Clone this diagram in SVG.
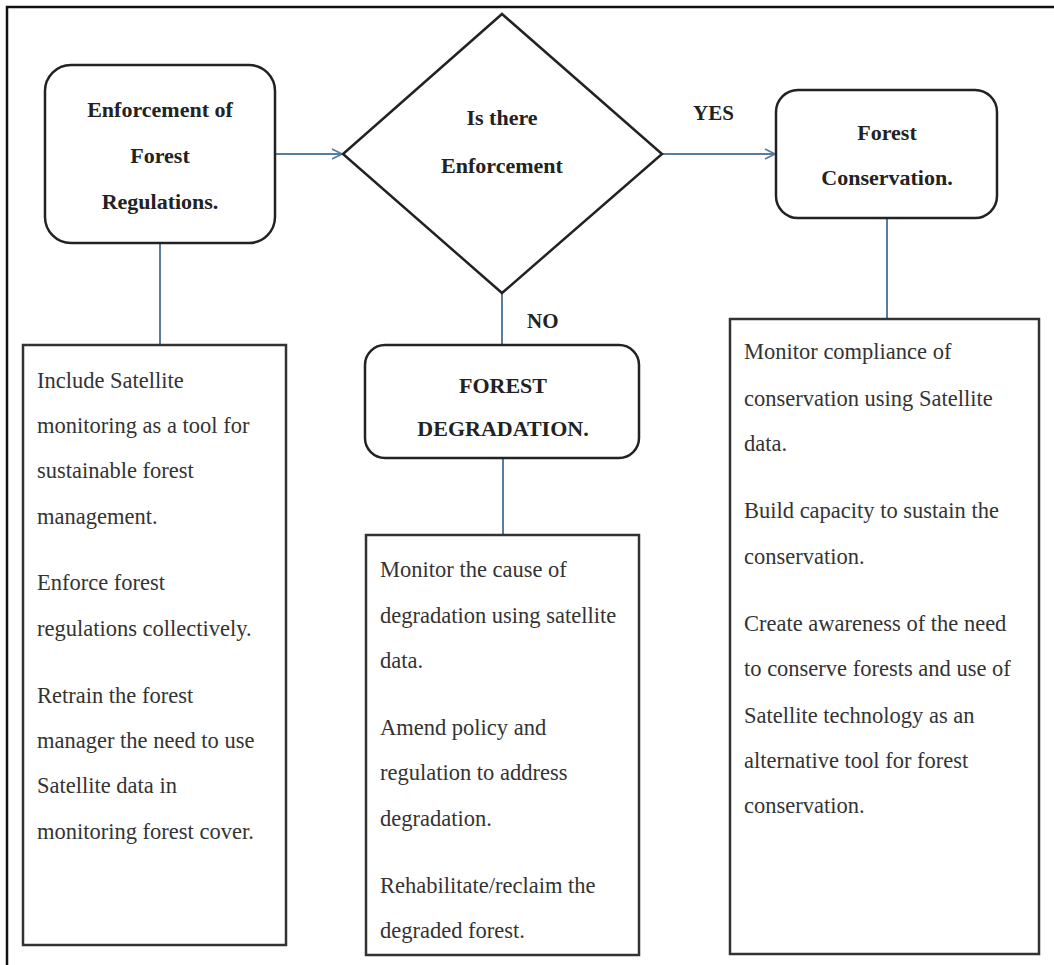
<svg xmlns="http://www.w3.org/2000/svg" width="1054" height="965" viewBox="0 0 1054 965">
<style>
.frame{fill:none;stroke:#111;stroke-width:2.5}
.rbox{fill:#fff;stroke:#222;stroke-width:2.5}
.box{fill:#fff;stroke:#333;stroke-width:2.5}
.title{font-family:'Liberation Serif','Times New Roman',Times,'DejaVu Serif',serif;font-size:22px;font-weight:bold;fill:#222;text-anchor:middle}
.lbl{font-family:'Liberation Serif','Times New Roman',Times,'DejaVu Serif',serif;font-size:21px;font-weight:bold;fill:#222}
.body{font-family:'Liberation Serif','Times New Roman',Times,'DejaVu Serif',serif;font-size:22.5px;fill:#333}
.conn{stroke:#5a7d9c;stroke-width:2;fill:none}
</style>
<defs>
<marker id="arr" viewBox="0 0 12 12" refX="11" refY="6" markerWidth="12" markerHeight="12" markerUnits="userSpaceOnUse" orient="auto">
<path d="M1,1 L11,6 L1,11" fill="none" stroke="#5a7d9c" stroke-width="1.8"/>
</marker>
</defs>
<rect width="1054" height="965" fill="#fff"/>
<path class="frame" d="M7,975 L7,7 L1064,7"/>
<g id="connectors">
<line class="conn" x1="275" y1="154" x2="342" y2="154" marker-end="url(#arr)"/>
<line class="conn" x1="662" y1="154" x2="775" y2="154" marker-end="url(#arr)"/>
<line class="conn" x1="160" y1="243" x2="160" y2="345"/>
<line class="conn" x1="502" y1="293" x2="502" y2="345"/>
<line class="conn" x1="503" y1="458" x2="503" y2="535"/>
<line class="conn" x1="887" y1="218" x2="887" y2="319"/>
<text class="lbl" x="693" y="120">YES</text>
<text class="lbl" x="527" y="328">NO</text>
</g>
<g id="enforcement">
<rect class="rbox" x="45" y="65" width="230" height="178" rx="26"/>
<text class="title" x="160" y="117">Enforcement of</text>
<text class="title" x="160" y="163">Forest</text>
<text class="title" x="160" y="209">Regulations.</text>
</g>
<g id="decision">
<polygon class="rbox" points="502,14 662,154 502,293 343,154"/>
<text class="title" x="502" y="125">Is there</text>
<text class="title" x="502" y="173">Enforcement</text>
</g>
<g id="conservation">
<rect class="rbox" x="776" y="90" width="221" height="128" rx="22"/>
<text class="title" x="887" y="140">Forest</text>
<text class="title" x="887" y="185">Conservation.</text>
</g>
<g id="degradation">
<rect class="rbox" x="365" y="345" width="274" height="113" rx="20"/>
<text class="title" x="503" y="393">FOREST</text>
<text class="title" x="503" y="436">DEGRADATION.</text>
</g>
<g id="left-actions">
<rect class="box" x="23" y="345" width="263" height="600"/>
<text class="body" x="37" y="388">Include Satellite</text>
<text class="body" x="37" y="433">monitoring as a tool for</text>
<text class="body" x="37" y="478">sustainable forest</text>
<text class="body" x="37" y="524">management.</text>
<text class="body" x="37" y="590">Enforce forest</text>
<text class="body" x="37" y="636">regulations collectively.</text>
<text class="body" x="37" y="703">Retrain the forest</text>
<text class="body" x="37" y="748">manager the need to use</text>
<text class="body" x="37" y="793">Satellite data in</text>
<text class="body" x="37" y="839">monitoring forest cover.</text>
</g>
<g id="middle-actions">
<rect class="box" x="366" y="535" width="273" height="420"/>
<text class="body" x="380" y="577">Monitor the cause of</text>
<text class="body" x="380" y="623">degradation using satellite</text>
<text class="body" x="380" y="668">data.</text>
<text class="body" x="380" y="735">Amend policy and</text>
<text class="body" x="380" y="780">regulation to address</text>
<text class="body" x="380" y="826">degradation.</text>
<text class="body" x="380" y="893">Rehabilitate/reclaim the</text>
<text class="body" x="380" y="938">degraded forest.</text>
</g>
<g id="right-actions">
<rect class="box" x="730" y="319" width="309" height="635"/>
<text class="body" x="744" y="359">Monitor compliance of</text>
<text class="body" x="744" y="406">conservation using Satellite</text>
<text class="body" x="744" y="451">data.</text>
<text class="body" x="744" y="518">Build capacity to sustain the</text>
<text class="body" x="744" y="564">conservation.</text>
<text class="body" x="744" y="631">Create awareness of the need</text>
<text class="body" x="744" y="676">to conserve forests and use of</text>
<text class="body" x="744" y="723">Satellite technology as an</text>
<text class="body" x="744" y="768">alternative tool for forest</text>
<text class="body" x="744" y="813">conservation.</text>
</g>
</svg>
